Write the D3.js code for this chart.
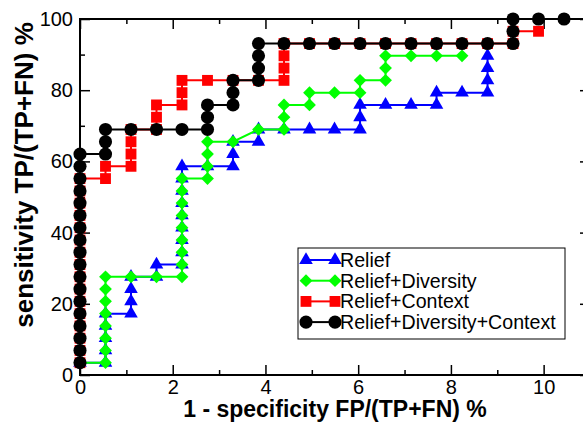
<!DOCTYPE html>
<html>
<head>
<meta charset="utf-8">
<script src="https://cdn.jsdelivr.net/npm/d3@7"></script>
<style>
  body { margin: 0; background: #fff; }
  svg { display: block; font-family: "Liberation Sans", Arial, sans-serif; }
</style>
</head>
<body>
<div id="container"></div>
<script>
// ROC points (x = 1 - specificity %, y = sensitivity %)
const reliefX = [0, 0.55, 0.55, 0.55, 0.55, 0.55, 1.10, 1.10, 1.10, 1.10, 1.65, 1.65,
  2.20, 2.20, 2.20, 2.20, 2.20, 2.20, 2.20, 2.20, 2.20, 2.75, 3.30, 3.30, 3.30, 3.85, 3.85,
  4.40, 4.95, 5.49, 6.04, 6.04, 6.04, 6.59, 7.14, 7.69, 7.69, 8.24, 8.79, 8.79, 8.79, 8.79];
const reliefY = [3.45, 3.45, 6.90, 10.34, 13.79, 17.24, 17.24, 20.69, 24.14, 27.59, 27.59, 31.03,
  31.03, 34.48, 37.93, 41.38, 44.83, 48.28, 51.72, 55.17, 58.62, 58.62, 58.62, 62.07, 65.52, 65.52, 68.97,
  68.97, 68.97, 68.97, 68.97, 72.41, 75.86, 75.86, 75.86, 75.86, 79.31, 79.31, 79.31, 82.76, 86.21, 89.66];

const diversityX = [0, 0.55, 0.55, 0.55, 0.55, 0.55, 0.55, 0.55, 0.55, 1.10, 1.65,
  2.20, 2.20, 2.20, 2.20, 2.20, 2.20, 2.20, 2.20, 2.20, 2.75, 2.75, 2.75, 2.75, 3.30, 3.85,
  4.40, 4.40, 4.40, 4.95, 4.95, 5.49, 6.04, 6.04, 6.59, 6.59, 6.59, 7.14, 7.69, 8.24];
const diversityY = [3.45, 3.45, 6.90, 10.34, 13.79, 17.24, 20.69, 24.14, 27.59, 27.59, 27.59,
  27.59, 31.03, 34.48, 37.93, 41.38, 44.83, 48.28, 51.72, 55.17, 55.17, 58.62, 62.07, 65.52, 65.52, 68.97,
  68.97, 72.41, 75.86, 75.86, 79.31, 79.31, 79.31, 82.76, 82.76, 86.21, 89.66, 89.66, 89.66, 89.66];

const contextX = [0, 0, 0, 0, 0, 0, 0, 0, 0, 0, 0, 0, 0, 0, 0, 0,
  0.55, 0.55, 1.10, 1.10, 1.10, 1.10, 1.65, 1.65, 1.65, 2.20, 2.20, 2.20, 2.75, 3.30, 3.85,
  4.40, 4.40, 4.40, 4.40, 4.95, 5.49, 6.04, 6.59, 7.14, 7.69, 8.24, 8.79, 9.34, 9.34, 9.89];
const contextY = [3.45, 6.90, 10.34, 13.79, 17.24, 20.69, 24.14, 27.59, 31.03, 34.48, 37.93, 41.38, 44.83, 48.28, 51.72, 55.17,
  55.17, 58.62, 58.62, 62.07, 65.52, 68.97, 68.97, 72.41, 75.86, 75.86, 79.31, 82.76, 82.76, 82.76, 82.76,
  82.76, 86.21, 89.66, 93.10, 93.10, 93.10, 93.10, 93.10, 93.10, 93.10, 93.10, 93.10, 93.10, 96.55, 96.55];

const allX = [0, 0, 0, 0, 0, 0, 0, 0, 0, 0, 0, 0, 0, 0, 0, 0, 0, 0,
  0.55, 0.55, 0.55, 1.10, 1.65, 2.20, 2.75, 2.75, 2.75, 3.30, 3.30, 3.30, 3.85, 3.85, 3.85, 3.85,
  4.40, 4.95, 5.49, 6.04, 6.59, 7.14, 7.69, 8.24, 8.79, 9.34, 9.34, 9.34, 9.89, 10.44];
const allY = [3.45, 6.90, 10.34, 13.79, 17.24, 20.69, 24.14, 27.59, 31.03, 34.48, 37.93, 41.38, 44.83, 48.28, 51.72, 55.17, 58.62, 62.07,
  62.07, 65.52, 68.97, 68.97, 68.97, 68.97, 68.97, 72.41, 75.86, 75.86, 79.31, 82.76, 82.76, 86.21, 89.66, 93.10,
  93.10, 93.10, 93.10, 93.10, 93.10, 93.10, 93.10, 93.10, 93.10, 93.10, 96.55, 100, 100, 100];

const seriesNames = ['Relief', 'Relief+Diversity', 'Relief+Context', 'Relief+Diversity+Context'];
const xTicks = [0, 2, 4, 6, 8, 10];
const xMinorTicks = [1, 3, 5, 7, 9];
const yTicks = [0, 20, 40, 60, 80, 100];
const yMinorTicks = [10, 30, 50, 70, 90];

const series = [
  { name: seriesNames[0], xs: reliefX, ys: reliefY, color: '#0000ff', symbol: d3.symbolTriangle, size: 80, rotate: 0 },
  { name: seriesNames[1], xs: diversityX, ys: diversityY, color: '#00ff00', symbol: d3.symbolSquare, size: 82, rotate: 45 },
  { name: seriesNames[2], xs: contextX, ys: contextY, color: '#ff0000', symbol: d3.symbolSquare, size: 118, rotate: 0 },
  { name: seriesNames[3], xs: allX, ys: allY, color: '#000000', symbol: d3.symbolCircle, size: 135, rotate: 0 }
];

const W = 583, H = 422;
const plot = { left: 80, right: 590, top: 19, bottom: 375 };

const svg = d3.select('#container').append('svg')
  .attr('width', W)
  .attr('height', H);

const x = d3.scaleLinear().domain([0, 11]).range([plot.left, plot.right]);
const y = d3.scaleLinear().domain([0, 100]).range([plot.bottom, plot.top]);

const noDomain = g => g.select('.domain').remove();

// ticks point inward on all four sides
svg.append('g')
  .attr('transform', `translate(0,${plot.bottom})`)
  .call(d3.axisBottom(x).tickValues(xTicks).tickSize(-10).tickPadding(5))
  .call(noDomain);
svg.append('g')
  .attr('transform', `translate(0,${plot.bottom})`)
  .call(d3.axisBottom(x).tickValues(xMinorTicks).tickSize(-5).tickFormat(''))
  .call(noDomain);
svg.append('g')
  .attr('transform', `translate(0,${plot.top})`)
  .call(d3.axisTop(x).tickValues(xTicks).tickSize(-10).tickFormat(''))
  .call(noDomain);
svg.append('g')
  .attr('transform', `translate(0,${plot.top})`)
  .call(d3.axisTop(x).tickValues(xMinorTicks).tickSize(-5).tickFormat(''))
  .call(noDomain);
svg.append('g')
  .attr('transform', `translate(${plot.left},0)`)
  .call(d3.axisLeft(y).tickValues(yTicks).tickSize(-10).tickPadding(7))
  .call(noDomain);
svg.append('g')
  .attr('transform', `translate(${plot.left},0)`)
  .call(d3.axisLeft(y).tickValues(yMinorTicks).tickSize(-5).tickFormat(''))
  .call(noDomain);
svg.append('g')
  .attr('transform', `translate(${plot.right},0)`)
  .call(d3.axisRight(y).tickValues(yTicks).tickSize(-10).tickFormat(''))
  .call(noDomain);
svg.append('g')
  .attr('transform', `translate(${plot.right},0)`)
  .call(d3.axisRight(y).tickValues(yMinorTicks).tickSize(-5).tickFormat(''))
  .call(noDomain);

svg.selectAll('.tick line').attr('stroke', '#000').attr('stroke-width', 1.5);
svg.selectAll('.tick text')
  .attr('font-family', '"Liberation Sans", Arial, sans-serif')
  .attr('font-size', 20)
  .attr('fill', '#000');

svg.append('rect')
  .attr('x', plot.left).attr('y', plot.top)
  .attr('width', plot.right - plot.left).attr('height', plot.bottom - plot.top)
  .attr('fill', 'none').attr('stroke', '#000').attr('stroke-width', 2);

const line = d3.line().x(d => x(d[0])).y(d => y(d[1]));

series.forEach(s => {
  const pts = s.xs.map((v, i) => [v, s.ys[i]]);
  const g = svg.append('g');
  g.append('path')
    .attr('d', line(pts))
    .attr('fill', 'none')
    .attr('stroke', s.color)
    .attr('stroke-width', 2);
  g.selectAll('path.pt').data(pts).enter().append('path')
    .attr('class', 'pt')
    .attr('d', d3.symbol(s.symbol, s.size)())
    .attr('transform', d => `translate(${x(d[0])},${y(d[1])}) rotate(${s.rotate})`)
    .attr('fill', s.color);
});

// legend
const lg = svg.append('g').attr('transform', 'translate(298,248)');
lg.append('rect')
  .attr('width', 267).attr('height', 91)
  .attr('fill', '#fff').attr('stroke', '#000').attr('stroke-width', 1);

series.forEach((s, i) => {
  const row = lg.append('g').attr('transform', `translate(0,${12 + i * 20.7})`);
  row.append('line')
    .attr('x1', 8).attr('x2', 37)
    .attr('stroke', s.color).attr('stroke-width', 2);
  [8, 37].forEach(px => {
    row.append('path')
      .attr('d', d3.symbol(s.symbol, s.size)())
      .attr('transform', `translate(${px},0) rotate(${s.rotate})`)
      .attr('fill', s.color);
  });
  row.append('text')
    .attr('x', 42).attr('dy', '0.35em')
    .attr('font-size', 19.6)
    .text(s.name);
});

// axis titles
svg.append('text')
  .attr('x', (plot.left + plot.right) / 2).attr('y', 417)
  .attr('text-anchor', 'middle')
  .attr('font-size', 23).attr('font-weight', 'bold')
  .text('1 - specificity FP/(TP+FN) %');

svg.append('text')
  .attr('transform', 'translate(33,175) rotate(-90)')
  .attr('text-anchor', 'middle')
  .attr('font-size', 26).attr('font-weight', 'bold')
  .text('sensitivity TP/(TP+FN) %');
</script>
</body>
</html>
